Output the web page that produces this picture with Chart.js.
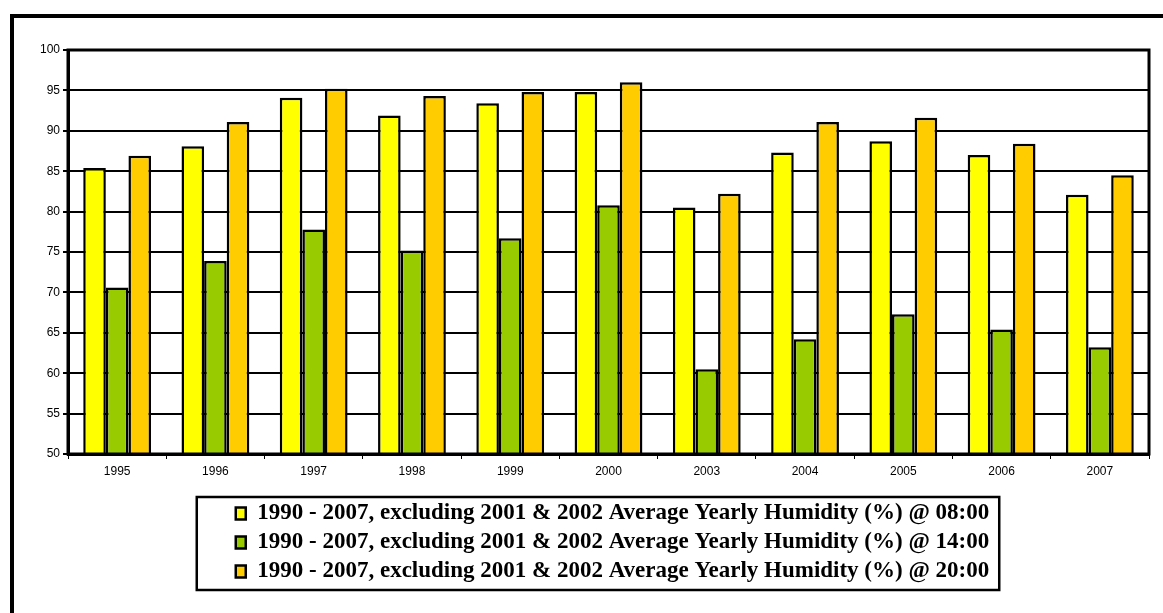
<!DOCTYPE html>
<html>
<head>
<meta charset="utf-8">
<script src="https://cdn.jsdelivr.net/npm/chart.js@4"></script>
<style>
  html, body { margin: 0; padding: 0; background: #fff; }
  #wrap { width: 1163px; height: 613px; }
</style>
</head>
<body>
<div id="wrap"><canvas id="Chart" width="1163" height="613"></canvas></div>
<script>
// カテゴリ（年）
const years = ['1995', '1996', '1997', '1998', '1999', '2000', '2003', '2004', '2005', '2006', '2007'];

// 各時刻の平均湿度（%）
const hum08 = [85.4, 88.1, 94.1, 91.9, 93.4, 94.8, 80.5, 87.3, 88.7, 87.0, 82.1];
const hum14 = [70.6, 73.9, 77.8, 75.2, 76.7, 80.8, 60.5, 64.2, 67.3, 65.4, 63.2];
const hum20 = [86.9, 91.1, 95.2, 94.3, 94.8, 96.0, 82.2, 91.1, 91.6, 88.4, 84.5];

const seriesLabels = [
	'1990 - 2007, excluding 2001 & 2002 Average Yearly Humidity (%) @ 08:00',
	'1990 - 2007, excluding 2001 & 2002 Average Yearly Humidity (%) @ 14:00',
	'1990 - 2007, excluding 2001 & 2002 Average Yearly Humidity (%) @ 20:00',
];

// Y軸の目盛り
const yMin = 50;
const yMax = 100;
const yStep = 5;

// 外枠・プロット枠・凡例枠を描くプラグイン
const framePlugin = {
	id: 'frames',
	afterLayout(chart) {
		// 凡例を少し右に寄せる
		const lg = chart.legend;
		lg.left += 38;
		lg.right += 38;
	},
	afterDraw(chart) {
		const ctx = chart.ctx;
		const a = chart.chartArea;
		ctx.save();
		ctx.strokeStyle = '#000';
		// 外枠（左と上）
		ctx.lineWidth = 4;
		ctx.beginPath();
		ctx.moveTo(12, 640);
		ctx.lineTo(12, 16);
		ctx.lineTo(1200, 16);
		ctx.stroke();
		// プロットエリアの枠
		ctx.lineWidth = 3;
		ctx.strokeRect(a.left, a.top, a.right - a.left, a.bottom - a.top);
		// 凡例の枠
		const boxes = chart.legend.legendHitBoxes;
		if (boxes && boxes.length) {
			let l = Infinity, r = -Infinity;
			boxes.forEach(b => { l = Math.min(l, b.left); r = Math.max(r, b.left + b.width); });
			const t = boxes[0].top - 5;
			const bt = boxes[boxes.length - 1].top + boxes[boxes.length - 1].height + 7;
			ctx.lineWidth = 2.5;
			ctx.strokeRect(l - 39, t, (r + 10) - (l - 39), bt - t);
		}
		ctx.restore();
	}
};

let ctx = document.getElementById('Chart');
let config = {
	type: 'bar',
	data: {
		labels: years,
		datasets: [{
			label: seriesLabels[0],
			data: hum08,
			backgroundColor: '#FFFF00',
			borderColor: '#000',
			borderWidth: 2.5,
		}, {
			label: seriesLabels[1],
			data: hum14,
			backgroundColor: '#99CC00',
			borderColor: '#000',
			borderWidth: 2.5,
		}, {
			label: seriesLabels[2],
			data: hum20,
			backgroundColor: '#FFCC00',
			borderColor: '#000',
			borderWidth: 2.5,
		}],
	},
	options: {
		responsive: false,
		animation: false,
		devicePixelRatio: 1,
		datasets: {
			bar: {
				barPercentage: 1.0,
				categoryPercentage: 0.69,
				base: yMin,
			}
		},
		layout: {
			padding: { top: 50, left: 0, right: 14, bottom: 20 }
		},
		plugins: {
			tooltip: { enabled: false },
			legend: {
				position: 'bottom',
				labels: {
					color: '#000',
					boxWidth: 10,
					boxHeight: 12,
					padding: 6,
					font: { family: '"Liberation Serif", "Times New Roman", serif', size: 23, weight: 'bold' },
				}
			}
		},
		scales: {
			x: {
				grid: {
					drawOnChartArea: false,
					drawTicks: true,
					tickLength: 5,
					color: '#000',
					lineWidth: 1,
				},
				border: { color: '#000', width: 3 },
				ticks: {
					color: '#000',
					padding: 5,
					maxRotation: 0,
					font: { family: '"Liberation Sans", Arial, sans-serif', size: 12 },
				},
				afterFit(scale) { scale.height = 42; },
			},
			y: {
				min: yMin,
				max: yMax,
				grid: {
					color: '#000',
					lineWidth: 2,
					drawTicks: true,
					tickLength: 5,
				},
				border: { color: '#000', width: 3 },
				ticks: {
					stepSize: yStep,
					color: '#000',
					padding: 3,
					font: { family: '"Liberation Sans", Arial, sans-serif', size: 12 },
				},
				afterFit(scale) { scale.width = 68; },
			}
		}
	},
	plugins: [framePlugin],
};
let chart = new Chart(ctx, config);
</script>
</body>
</html>
